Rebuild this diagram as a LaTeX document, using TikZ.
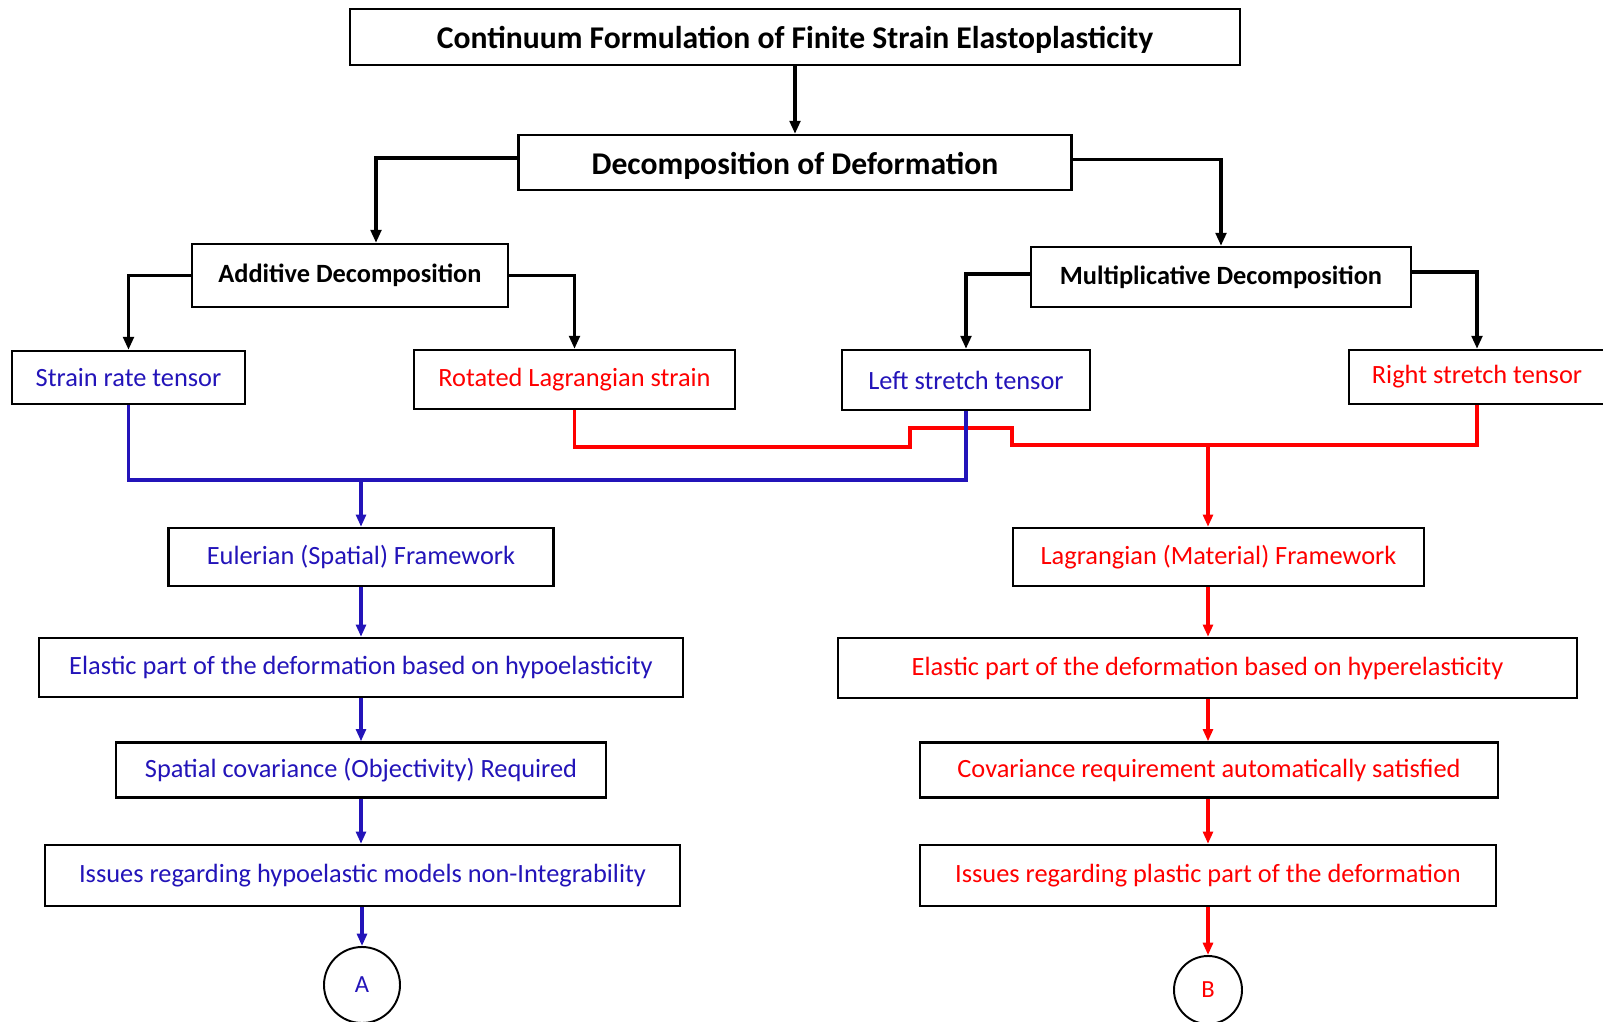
\documentclass[tikz,border=0pt]{standalone}
\usepackage{fontspec}
\setmainfont{Carlito}
\usetikzlibrary{arrows.meta,positioning,calc}
\definecolor{eul}{RGB}{35,20,185}
\definecolor{lag}{RGB}{255,0,0}

\begin{document}
\begin{tikzpicture}[
    box/.style={draw=black, line width=1.3pt, fill=white, inner sep=2pt,
                minimum width=#1cm, align=center},
    head/.style={font=\fontsize{18}{20}\selectfont\bfseries,
                 text height=17pt, text depth=3.6pt},
    sub/.style={font=\fontsize{15}{17}\selectfont\bfseries},
    txt/.style={font=\fontsize{15}{17}\selectfont, text=#1},
    blk/.style={-{Triangle[length=7.4pt,width=6pt]}, line width=2.2pt, black},
    eline/.style={line width=2pt, eul},
    lline/.style={line width=2pt, lag},
    earr/.style={eline, -{Triangle[length=7pt,width=5.6pt]}},
    larr/.style={lline, -{Triangle[length=7pt,width=5.6pt]}},
    circ/.style={circle, draw=black, line width=1.1pt, inner sep=0pt,
                 font=\fontsize{14}{16}\selectfont, text=#1}]

    \useasboundingbox (0,0) rectangle (32.06,-20.44);

    % top of the tree
    \node[box=17.8, minimum height=1.12cm, head] (title)  at (15.9,-0.74)
        {Continuum Formulation of Finite Strain Elastoplasticity};
    \node[box=11.06, minimum height=1.1cm, head] (decomp) at (15.9,-3.25)
        {Decomposition of Deformation};

    \node[box=6.32, minimum height=1.26cm, sub] (additive) at (7.0,-5.51)
        {Additive Decomposition};
    \node[box=7.6, minimum height=1.2cm, sub]   (multi)    at (24.42,-5.54)
        {Multiplicative Decomposition};

    % tensors
    \node[box=4.66, minimum height=1.06cm, txt=eul] (strain)  at (2.57,-7.55)  {Strain rate tensor};
    \node[box=6.42, minimum height=1.18cm, txt=lag] (rotated) at (11.49,-7.59) {Rotated Lagrangian strain};
    \node[box=4.96, minimum height=1.2cm, txt=eul]  (lstretch) at (19.32,-7.6) {Left stretch tensor};
    \node[box=5.12, minimum height=1.08cm, txt=lag] (rstretch) at (29.54,-7.54) {Right stretch tensor};

    \draw[blk] (title) -- (decomp);
    \draw[blk] ([yshift=0.09cm]decomp.west) -| ([xshift=0.52cm]additive.north);
    \draw[blk] ([yshift=0.06cm]decomp.east) -| (multi.north);
    \draw[blk] (additive.west) -| (strain.north);
    \draw[blk] (additive.east) -| (rotated.north);
    \draw[blk] ([yshift=0.06cm]multi.west) -| (lstretch.north);
    \draw[blk] ([yshift=0.1cm]multi.east) -| (rstretch.north);

    % Eulerian branch
    \node[box=7.7, minimum height=1.16cm, txt=eul]   (eulf)  at (7.22,-11.14) {Eulerian (Spatial) Framework};
    \node[box=12.88, minimum height=1.18cm, txt=eul] (hypo)  at (7.22,-13.35)
        {Elastic part of the deformation based on hypoelasticity};
    \node[box=9.8, minimum height=1.1cm, txt=eul]    (spcov) at (7.22,-15.4)
        {Spatial covariance (Objectivity) Required};
    \node[box=12.7, minimum height=1.22cm, txt=eul]  (issA)  at (7.25,-17.51)
        {Issues regarding hypoelastic models non-Integrability};
    \node[circ=eul, minimum size=1.52cm] (cA) at (7.24,-19.7) {A};

    % Lagrangian branch
    \node[box=8.22, minimum height=1.16cm, txt=lag]  (lagf)  at (24.37,-11.14) {Lagrangian (Material) Framework};
    \node[box=14.78, minimum height=1.2cm, txt=lag]  (hyper) at (24.15,-13.36)
        {Elastic part of the deformation based on hyperelasticity};
    \node[box=11.56, minimum height=1.1cm, txt=lag]  (cov)   at (24.18,-15.4)
        {Covariance requirement automatically satisfied};
    \node[box=11.52, minimum height=1.22cm, txt=lag] (issB)  at (24.16,-17.51)
        {Issues regarding plastic part of the deformation};
    \node[circ=lag, minimum size=1.36cm] (cB) at (24.16,-19.8) {B};

    % red collector
    \coordinate (rk1) at (18.2,-8.94);
    \coordinate (rk2) at (20.24,-8.9);
    \coordinate (rj)  at (24.16,-8.9);
    \draw[lline] (rotated.south) |- (rk1) -- ++(0,0.38) -| (rk2) -| (rstretch.south);
    \draw[larr] (rj) -- (rj |- lagf.north);

    % blue collector
    \coordinate (bj) at (7.22,-9.6);
    \draw[eline] (strain.south) |- (bj) -| (lstretch.south);
    \draw[earr] (bj) -- (eulf.north);

    \draw[earr] (eulf) -- (hypo);
    \draw[earr] (hypo) -- (spcov);
    \draw[earr] (spcov.south) -- (spcov.south |- issA.north);
    \draw[earr] (cA.north |- issA.south) -- (cA.north);

    \draw[larr] (rj |- lagf.south) -- (rj |- hyper.north);
    \draw[larr] (rj |- hyper.south) -- (rj |- cov.north);
    \draw[larr] (rj |- cov.south) -- (rj |- issB.north);
    \draw[larr] (issB) -- (cB);
\end{tikzpicture}
\end{document}
